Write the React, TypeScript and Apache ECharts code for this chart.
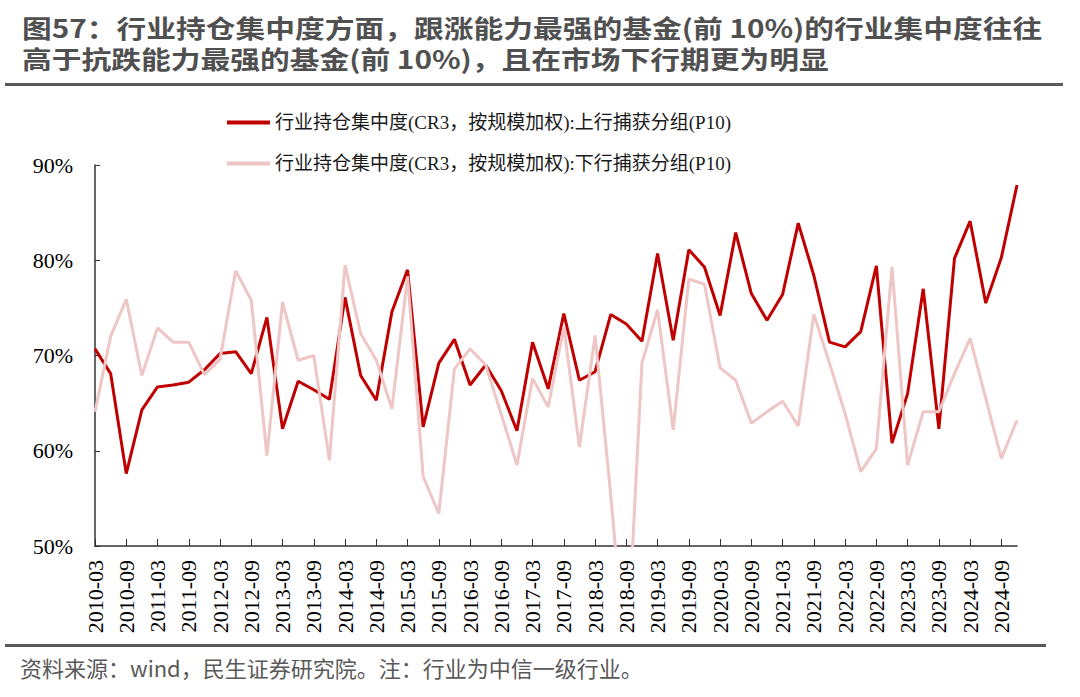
import React, { useEffect, useRef } from "react";
import * as echarts from "echarts";

const titleLine1 = "图57：行业持仓集中度方面，跟涨能力最强的基金(前 10%)的行业集中度往往";
const titleLine2 = "高于抗跌能力最强的基金(前 10%)，且在市场下行期更为明显";
const footerText = "资料来源：wind，民生证券研究院。注：行业为中信一级行业。";

const seriesUpName = "行业持仓集中度(CR3，按规模加权):上行捕获分组(P10)";
const seriesDownName = "行业持仓集中度(CR3，按规模加权):下行捕获分组(P10)";

const years = [2010, 2011, 2012, 2013, 2014, 2015, 2016, 2017, 2018, 2019, 2020, 2021, 2022, 2023, 2024];
const months = ["03", "06", "09", "12"];
const categories: string[] = [];
years.forEach((y) => months.forEach((m) => categories.push(`${y}-${m}`)));

const upCapture = [
  70.7, 68.1, 57.6, 64.3, 66.7, 66.9, 67.2, 68.5, 70.2, 70.4,
  68.1, 74.0, 62.3, 67.3, 66.4, 65.4, 76.1, 67.9, 65.3, 74.6,
  79.0, 62.5, 69.2, 71.7, 66.9, 69.0, 66.3, 62.1, 71.4, 66.5,
  74.4, 67.4, 68.3, 74.3, 73.3, 71.5, 80.7, 71.6, 81.1, 79.3,
  74.2, 82.9, 76.5, 73.7, 76.4, 83.9, 78.4, 71.4, 70.9, 72.5,
  79.4, 60.8, 66.0, 77.0, 62.3, 80.2, 84.1, 75.5, 80.3, 87.9,
];

const downCapture = [
  64.1, 72.0, 75.9, 67.9, 72.9, 71.4, 71.4, 68.0, 69.6, 78.9,
  75.8, 59.5, 75.6, 69.5, 70.0, 59.0, 79.5, 72.3, 69.5, 64.4,
  78.3, 57.3, 53.4, 68.6, 70.7, 69.0, 63.8, 58.5, 67.6, 64.6,
  73.0, 60.4, 72.1, 55.4, 37.0, 69.2, 74.8, 62.2, 78.0, 77.5,
  68.7, 67.4, 62.9, 64.1, 65.2, 62.6, 74.3, 69.2, 63.9, 57.8,
  60.2, 79.3, 58.5, 64.1, 64.1, 68.1, 71.8, 65.5, 59.2, 63.2,
];

const yMin = 50;
const yMax = 90;
const yInterval = 10;

const serifFont = "'Liberation Serif', 'Times New Roman', 'Noto Sans CJK SC', serif";
const sansFont = "'Noto Sans CJK SC', 'Microsoft YaHei', sans-serif";

export default function App() {
  const ref = useRef<HTMLDivElement>(null);

  useEffect(() => {
    if (!ref.current) return;
    const chart = echarts.init(ref.current, undefined, { renderer: "svg" });
    chart.setOption({
      animation: false,
      backgroundColor: "#ffffff",
      grid: { left: 95, right: 63, top: 165, bottom: 151, containLabel: false },
      legend: {
        orient: "vertical",
        left: 227,
        top: 113,
        padding: 0,
        itemWidth: 43,
        itemHeight: 4,
        itemGap: 22,
        icon: "rect",
        textStyle: { fontFamily: serifFont, fontSize: 19, color: "#1a1a1a" },
        data: [seriesUpName, seriesDownName],
      },
      xAxis: {
        type: "category",
        data: categories,
        boundaryGap: false,
        axisLine: { lineStyle: { color: "#333333", width: 1.5 } },
        axisTick: { inside: true, length: 7, interval: 1, lineStyle: { color: "#333333" } },
        axisLabel: {
          interval: 1,
          rotate: 90,
          margin: 14,
          fontFamily: serifFont,
          fontSize: 22,
          color: "#000000",
        },
        splitLine: { show: false },
      },
      yAxis: {
        type: "value",
        min: yMin,
        max: yMax,
        interval: yInterval,
        axisLine: { show: true, lineStyle: { color: "#333333", width: 1.5 } },
        axisTick: { show: true, inside: true, length: 5, lineStyle: { color: "#333333" } },
        axisLabel: {
          formatter: "{value}%",
          margin: 22,
          fontFamily: serifFont,
          fontSize: 22,
          color: "#000000",
        },
        splitLine: { show: false },
      },
      series: [
        {
          name: seriesUpName,
          type: "line",
          data: upCapture,
          symbol: "none",
          clip: true,
          lineStyle: { color: "#C00000", width: 3 },
          itemStyle: { color: "#C00000" },
        },
        {
          name: seriesDownName,
          type: "line",
          data: downCapture,
          symbol: "none",
          clip: true,
          lineStyle: { color: "#EEC6C6", width: 3 },
          itemStyle: { color: "#EEC6C6" },
        },
      ],
      graphic: [
        {
          type: "text",
          x: 22,
          y: 27,
          scaleX: 1.19,
          style: {
            text: titleLine1,
            font: `bold 25px ${sansFont}`,
            fill: "#505050",
            verticalAlign: "middle",
          },
        },
        {
          type: "text",
          x: 22,
          y: 58,
          scaleX: 1.19,
          style: {
            text: titleLine2,
            font: `bold 25px ${sansFont}`,
            fill: "#505050",
            verticalAlign: "middle",
          },
        },
        {
          type: "rect",
          shape: { x: 5, y: 83, width: 1058, height: 3 },
          style: { fill: "#595959" },
        },
        {
          type: "rect",
          shape: { x: 5, y: 644, width: 1041, height: 3 },
          style: { fill: "#595959" },
        },
        {
          type: "text",
          x: 20,
          y: 667,
          style: {
            text: footerText,
            font: `22px ${sansFont}`,
            fill: "#595959",
            verticalAlign: "middle",
          },
        },
      ],
    });
    return () => chart.dispose();
  }, []);

  return (
    <div
      ref={ref}
      style={{ position: "fixed", left: 0, top: 0, width: 1080, height: 697, background: "#fff" }}
    />
  );
}
